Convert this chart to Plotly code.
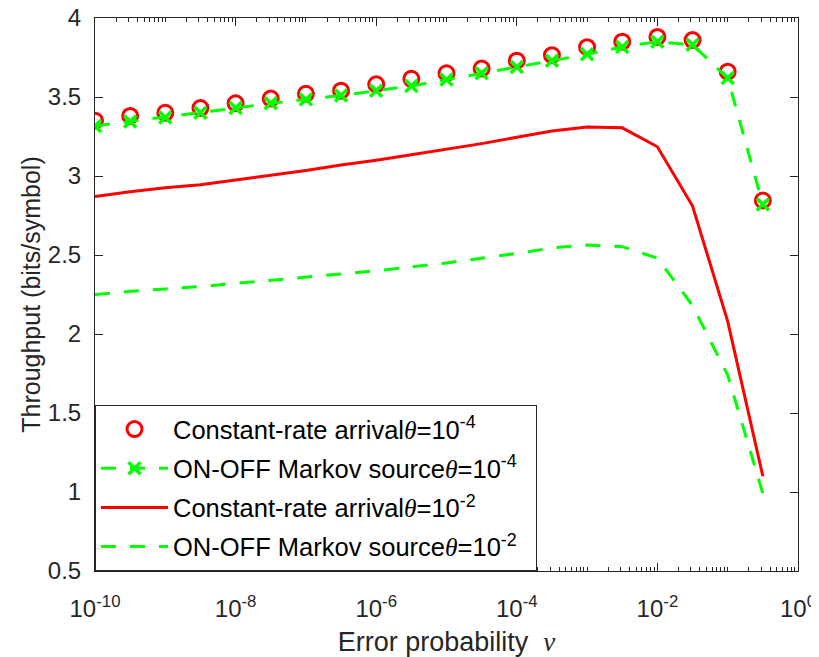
import plotly.graph_objects as go

# Data
nu = [1e-10, 3.162e-10, 1e-9, 3.162e-9, 1e-8, 3.162e-8, 1e-7, 3.162e-7,
      1e-6, 3.162e-6, 1e-5, 3.162e-5, 1e-4, 3.162e-4, 1e-3, 3.162e-3,
      1e-2, 3.162e-2, 1e-1, 3.162e-1]
const_theta4 = [3.35, 3.38, 3.40, 3.43, 3.46, 3.49, 3.52, 3.54, 3.58, 3.615,
                3.65, 3.68, 3.73, 3.765, 3.815, 3.85, 3.88, 3.86, 3.66, 2.845]
onoff_theta4 = [3.317, 3.345, 3.37, 3.40, 3.43, 3.46, 3.485, 3.51, 3.54, 3.57,
                3.61, 3.65, 3.69, 3.73, 3.77, 3.817, 3.85, 3.83, 3.62, 2.82]
const_theta2 = [2.87, 2.90, 2.925, 2.945, 2.975, 3.005, 3.035, 3.07, 3.10, 3.135,
                3.17, 3.205, 3.245, 3.285, 3.31, 3.305, 3.185, 2.81, 2.08, 1.10]
onoff_theta2 = [2.25, 2.27, 2.285, 2.30, 2.32, 2.34, 2.36, 2.38, 2.40, 2.425,
                2.45, 2.48, 2.51, 2.545, 2.563, 2.553, 2.48, 2.18, 1.74, 0.99]

x_tick_vals = [1e-10, 1e-8, 1e-6, 1e-4, 1e-2, 1]
x_tick_text = ["10<sup>-10</sup>", "10<sup>-8</sup>", "10<sup>-6</sup>",
               "10<sup>-4</sup>", "10<sup>-2</sup>", "10<sup>0</sup>"]

TH = "<i><span style=\"font-family:Liberation Serif\">θ</span></i>"
PAD = "\u00a0\u00a0"
names = [
    "Constant-rate arrival" + TH + "=10<sup>-4</sup>" + PAD,
    "ON-OFF Markov source" + TH + "=10<sup>-4</sup>" + PAD,
    "Constant-rate arrival" + TH + "=10<sup>-2</sup>" + PAD,
    "ON-OFF Markov source" + TH + "=10<sup>-2</sup>" + PAD,
]

RED = "#FF0000"
GREEN = "#00FF00"
AX = "#262626"

fig = go.Figure()
fig.add_trace(go.Scatter(x=nu, y=const_theta4, mode="markers", name=names[0],
                         legendgroup="a",
                         marker=dict(symbol="circle-open", size=15, color=RED,
                                     line=dict(width=3, color=RED))))
fig.add_trace(go.Scatter(x=nu, y=onoff_theta4, mode="lines+markers", name=names[1],
                         legendgroup="b",
                         line=dict(color=GREEN, width=3, dash="15px,14px"),
                         marker=dict(symbol="x-thin", size=12, color=GREEN,
                                     line=dict(width=3.5, color=GREEN))))
fig.add_trace(go.Scatter(x=nu, y=const_theta2, mode="lines", name=names[2],
                         legendgroup="c",
                         line=dict(color=RED, width=3)))
fig.add_trace(go.Scatter(x=nu, y=onoff_theta2, mode="lines", name=names[3],
                         legendgroup="d",
                         line=dict(color=GREEN, width=3, dash="15px,14px")))

minor_vals = [m * 10.0 ** e for e in range(-10, 0) for m in range(1, 10)
              if not (m == 1 and e % 2 == 0)]

# page body has an 8px default margin, so the figure is offset by 8px
fig.update_layout(
    width=811, height=649,
    margin=dict(l=87, r=21, t=10, b=86),
    paper_bgcolor="white", plot_bgcolor="white",
    font=dict(family="Liberation Sans, Arial, sans-serif", size=24, color=AX),
    showlegend=True,
    legend=dict(x=0, y=0, xanchor="left", yanchor="bottom",
                bgcolor="white", bordercolor=AX, borderwidth=1,
                font=dict(size=25.5, color="black"), itemwidth=67,
                traceorder="grouped", tracegroupgap=3),
    xaxis=dict(type="log", range=[-10, 0], tickmode="array",
               tickvals=x_tick_vals, ticktext=x_tick_text, automargin=False,
               ticks="inside", ticklen=8, tickwidth=1, tickcolor=AX,
               ticklabelstandoff=16, ticklabeloverflow="allow",
               showline=True, linecolor=AX, linewidth=1, mirror="ticks",
               showgrid=False, zeroline=False,
               minor=dict(tickmode="array", tickvals=minor_vals, ticks="inside",
                          ticklen=4, tickcolor=AX, showgrid=False),
               title=dict(text="Error probability  <i><span style=\"font-family:Liberation Serif\">ν</span></i>",
                          font=dict(size=27), standoff=23)),
    yaxis=dict(range=[0.5, 4], tickmode="linear", tick0=0.5, dtick=0.5,
               automargin=False,
               ticks="inside", ticklen=8, tickwidth=1, tickcolor=AX,
               ticklabelstandoff=8, ticklabeloverflow="allow",
               showline=True, linecolor=AX, linewidth=1, mirror="ticks",
               showgrid=False, zeroline=False,
               title=dict(text="Throughput (bits/symbol)", font=dict(size=25),
                          standoff=0)),
)

fig.write_html("out.html")
